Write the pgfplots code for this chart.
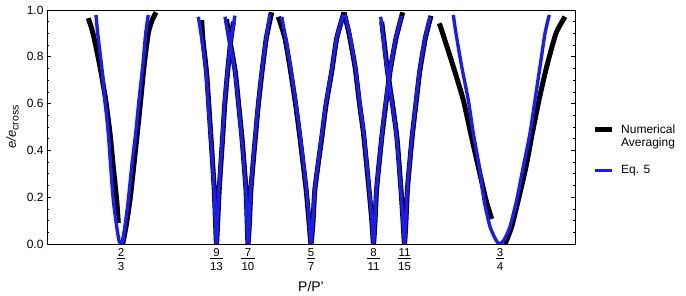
\documentclass[border=0pt]{standalone}
\usepackage{pgfplots}
\pgfplotsset{compat=1.18}
\usepackage{fontspec}
\setmainfont{Liberation Sans}
\definecolor{eqblue}{RGB}{28,28,240}
\newcommand{\fr}[2]{{\renewcommand{\arraystretch}{0.5}\begin{tabular}{@{\kern0.6pt}c@{\kern0.6pt}}\rule{0pt}{8.5pt}#1\\[0pt]\hline\rule{0pt}{12pt}#2\end{tabular}}}
\begin{document}
\begin{tikzpicture}
\useasboundingbox (-47pt,-52pt) rectangle (639pt,244pt);
\begin{axis}[
  scale only axis, width=528pt, height=234pt,
  xmin=47, xmax=575, ymin=0, ymax=1,
  axis line style={line width=0.8pt},
  xtick={121,216.5,248,311,373.5,404.5,500},
  xticklabels={{\fr{2}{3}},{\fr{9}{13}},{\fr{7}{10}},{\fr{5}{7}},{\fr{8}{11}},{\fr{11}{15}},{\fr{3}{4}}},
  x tick style={draw=none},
  x tick label style={font=\fontsize{11.5}{12}\selectfont, inner sep=0pt, yshift=-4pt},
  ytick={0,0.2,0.4,0.6,0.8,1.0},
  minor y tick num=3,
  y tick label style={font=\fontsize{12}{14}\selectfont, /pgf/number format/fixed, /pgf/number format/fixed zerofill, /pgf/number format/precision=1},
  /pgf/number format/assume math mode=true,
  major tick length=4pt, minor tick length=2pt,
  every tick/.style={line width=0.6pt, black},
  xlabel={P/P'},
  xlabel style={font=\fontsize{14}{16}\selectfont, at={(axis description cs:0.5,-0.18)}, anchor=center},
  ylabel={\textit{e/e}\raisebox{-2.8pt}{\fontsize{10.5}{12}\selectfont cross}},
  ylabel style={font=\fontsize{13}{15}\selectfont, at={(axis description cs:-0.065,0.5)}, anchor=center},
  legend style={draw=none, fill=none, at={(axis description cs:1.032,0.517)}, anchor=north west,
    inner sep=0pt, column sep=7pt, row sep=0.5pt,
    nodes={inner sep=0pt, text height=10pt, text depth=3pt, font=\fontsize{12}{13}\selectfont}},
  legend cell align=left,
  every axis plot/.append style={line join=round},
]
% ---------- Numerical averaging (black) ----------
\addplot[black, line width=5pt, smooth, tension=0.4, forget plot] coordinates {
(88.3,0.965)(93,0.9)(100,0.758)(105.7,0.615)(110,0.473)(113.3,0.33)(116.7,0.188)(118.3,0.09)};
\addplot[black, line width=5pt, smooth, tension=0.4, forget plot] coordinates {
(122.7,0)(126,0.074)(130,0.188)(133.7,0.33)(137.3,0.473)(140.7,0.615)(144,0.758)(148.3,0.9)(152,0.955)(156,0.99)};
\addplot[black, line width=5pt, smooth, tension=0.3, forget plot] coordinates {
(201.7,0.957)(202.8,0.879)(206.5,0.736)(208.8,0.594)(211,0.452)(214.2,0.238)(215.5,0.095)(216.5,0)(217.7,0.095)(219.3,0.238)(222.6,0.452)(224.7,0.594)(227.6,0.736)(231,0.879)(233.5,0.95)};
\addplot[black, line width=5pt, smooth, tension=0.3, forget plot] coordinates {
(226.5,0.96)(229.5,0.879)(235.3,0.736)(238.7,0.594)(242,0.452)(245.9,0.238)(247.2,0.095)(248,0)(249.5,0.095)(251,0.238)(255.3,0.452)(258.3,0.594)(262,0.736)(266.3,0.879)(271.7,0.99)};
\addplot[black, line width=5pt, smooth, tension=0.3, forget plot] coordinates {
(278.3,0.971)(285,0.879)(290.7,0.736)(295.7,0.594)(300,0.452)(306,0.238)(309,0.095)(311,0)(313,0.095)(315,0.238)(321.7,0.452)(326,0.594)(331.7,0.736)(336.7,0.879)(344,0.99)};
\addplot[black, line width=5pt, smooth, tension=0.3, forget plot] coordinates {
(344,0.99)(349,0.9)(355,0.758)(359.5,0.6)(363.5,0.473)(367.5,0.3)(370,0.188)(372,0.09)(373.5,0)(375,0.095)(376.7,0.238)(381.7,0.452)(385.7,0.594)(390,0.736)(396,0.879)(402.7,0.99)};
\addplot[black, line width=5pt, smooth, tension=0.3, forget plot] coordinates {
(381.7,0.95)(383.7,0.879)(387.6,0.736)(392.6,0.594)(397,0.452)(400.9,0.238)(403.1,0.095)(404.5,0)(405.9,0.095)(407.5,0.238)(412,0.452)(415.8,0.594)(419.7,0.736)(425.3,0.879)(431,0.975)};
\addplot[black, line width=5pt, smooth, tension=0.4, forget plot] coordinates {
(439.3,0.943)(442.7,0.9)(453.3,0.758)(463.3,0.615)(470.7,0.473)(478.3,0.33)(486,0.188)(491.7,0.107)};
\addplot[black, line width=5pt, smooth, tension=0.4, forget plot] coordinates {
(505,0)(507,0.02)(511.7,0.074)(518.3,0.188)(526,0.33)(532.3,0.473)(539,0.615)(546.7,0.758)(556,0.9)(565,0.971)};
% ---------- Eq. 5 (blue) ----------
\addplot[eqblue, line width=3.4pt, smooth, tension=0.4, forget plot] coordinates {
(96,0.979)(97.7,0.9)(101.7,0.758)(105,0.615)(108.3,0.473)(110.7,0.33)(113.3,0.188)(116.7,0.074)(119,0.015)(121,0)(123,0.015)(125,0.074)(128.3,0.188)(131.7,0.33)(135.7,0.473)(139,0.615)(142.7,0.758)(145.7,0.9)(148.3,0.979)};
\addplot[eqblue, line width=3.4pt, smooth, tension=0.3, forget plot] coordinates {
(198.3,0.971)(201.7,0.879)(206,0.736)(208.3,0.594)(210.7,0.452)(214,0.238)(215.3,0.095)(216.5,0)(217.5,0.095)(219,0.238)(222.3,0.452)(224.4,0.594)(227.3,0.736)(231,0.879)(235,0.976)};
\addplot[eqblue, line width=3.4pt, smooth, tension=0.3, forget plot] coordinates {
(225,0.971)(229,0.879)(235,0.736)(238.4,0.594)(241.7,0.452)(245.7,0.238)(247,0.095)(248,0)(249.3,0.095)(250.7,0.238)(255,0.452)(258,0.594)(261.7,0.736)(266,0.879)(270,0.986)};
\addplot[eqblue, line width=3.4pt, smooth, tension=0.3, forget plot] coordinates {
(281.7,0.971)(285.7,0.879)(291.2,0.736)(296.2,0.594)(300.5,0.452)(306.3,0.238)(309.2,0.095)(311,0)(312.8,0.095)(314.8,0.238)(321.3,0.452)(325.6,0.594)(331.3,0.736)(336.5,0.879)(343.3,0.98)};
\addplot[eqblue, line width=3.4pt, smooth, tension=0.3, forget plot] coordinates {
(345,0.98)(349.5,0.9)(355.3,0.758)(359.8,0.6)(363.8,0.473)(367.7,0.3)(370.2,0.188)(372.1,0.09)(373.5,0)(374.9,0.095)(376.5,0.238)(381.5,0.452)(385.3,0.594)(389.7,0.736)(395.7,0.879)(401.5,0.975)};
\addplot[eqblue, line width=3.4pt, smooth, tension=0.3, forget plot] coordinates {
(380.7,0.971)(383.3,0.879)(387.3,0.736)(392.3,0.594)(396.7,0.452)(400.7,0.238)(403,0.095)(404.5,0)(405.8,0.095)(407.3,0.238)(411.7,0.452)(415.5,0.594)(419.3,0.736)(425,0.879)(430,0.971)};
\addplot[eqblue, line width=3.4pt, smooth, tension=0.4, forget plot] coordinates {
(453.3,0.979)(456,0.9)(461.7,0.758)(468.3,0.615)(473.3,0.473)(479.3,0.33)(484,0.188)(490,0.074)(496,0.017)(499.5,0)(504,0.017)(510,0.074)(516.7,0.188)(523.3,0.33)(530,0.473)(535,0.615)(540,0.758)(545,0.9)(549.3,0.979)};
% ---------- legend ----------
\addlegendimage{black, line width=5pt}
\addlegendentry{Numerical}
\addlegendimage{empty legend}
\addlegendentry{Averaging}
\addlegendimage{empty legend}
\addlegendentry{}
\addlegendimage{eqblue, line width=3.4pt}
\addlegendentry{Eq. 5}
\end{axis}
\end{tikzpicture}
\end{document}
